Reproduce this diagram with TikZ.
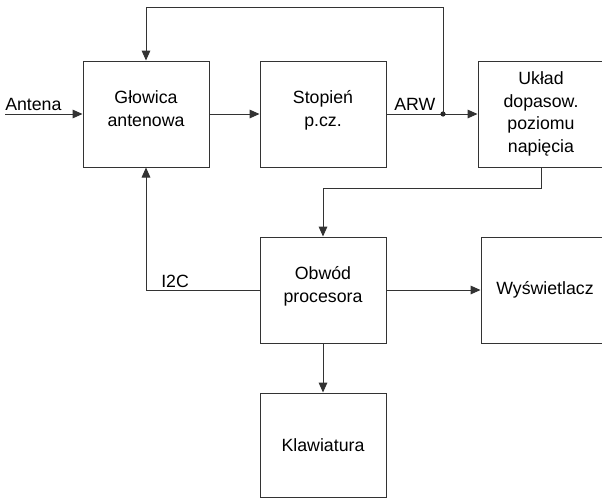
\documentclass[tikz,border=0pt]{standalone}
\usepackage{fontspec}
\setmainfont{Liberation Sans}
\usetikzlibrary{arrows.meta}
\begin{document}
\begin{tikzpicture}[x=0.75pt,y=-0.75pt,
 blk/.style={draw=black!80, line width=0.75pt, minimum width=94.5pt, minimum height=79.5pt, align=center, font=\fontsize{13.3}{17}\selectfont, inner sep=0pt},
 up/.style={text depth=8pt},
 conn/.style={draw=black!80, line width=0.75pt},
 arr/.style={conn, -{Triangle[length=7.5pt,width=6.5pt]}},
 lbl/.style={font=\fontsize{13.3}{15}\selectfont, inner sep=0pt, anchor=south west}]
\useasboundingbox (0,0) rectangle (602,500);
\fill[white] (0,0) rectangle (602,500);
\node[blk, up] (glow) at (146,114) {Głowica\\antenowa};
\node[blk, up] (stop) at (323,114) {Stopień\\p.cz.};
\node[blk] (uklad) at (541,114) {Układ\\dopasow.\\poziomu\\napięcia};
\node[blk, up] (obw) at (323,290) {Obwód\\procesora};
\node[blk, minimum width=96pt] (wys) at (545,290) {Wyświetlacz};
\node[blk, minimum height=78pt] (klaw) at (323,445) {Klawiatura};
\coordinate (ant) at (5,114);
\coordinate (j) at (443,114);
\coordinate (tp) at (443,7);
\node[lbl] (antl) at (5,111) {Antena};
\node[lbl] (arwl) at (394,111) {ARW};
\node[lbl] (i2cl) at (161,288) {I2C};
\draw[arr] (ant) -- (glow.west);
\draw[arr] (glow.east) -- (stop.west);
\draw[arr] (stop.east) -- (uklad.west);
\fill[black!85] (j) circle (2.6);
\draw[arr] (j) -- (tp) -| (glow.north);
\draw[arr] (uklad.south) -- ++(0,21) -| (obw.north);
\draw[arr] (obw.west) -| (glow.south);
\draw[arr] (obw.east) -- (wys.west);
\draw[arr] (obw.south) -- (klaw.north);
\end{tikzpicture}
\end{document}
